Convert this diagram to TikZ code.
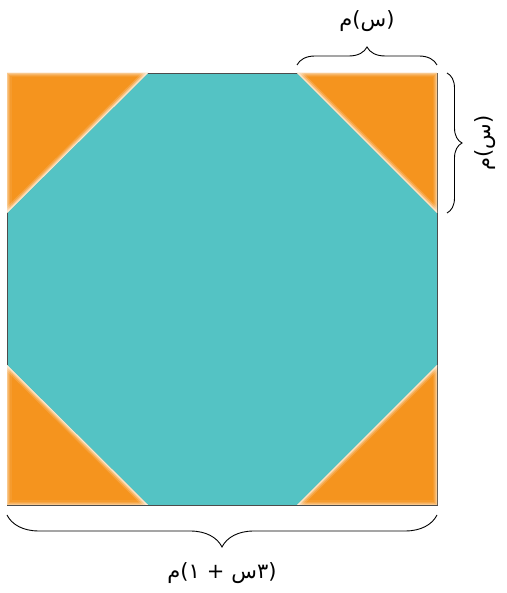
\documentclass[tikz,border=0pt]{standalone}
\usepackage{fontspec}
\usepackage{xcolor}
\usepackage{tikz}
\usetikzlibrary{decorations.pathreplacing}
\TeXXeTstate=1
\newfontfamily\arabicfont[Script=Arabic]{DejaVu Sans}
\definecolor{sqteal}{RGB}{84, 195, 196}
\definecolor{cnrorange}{RGB}{245, 148, 30}

\begin{document}
\begin{tikzpicture}[x=1pt, y=1pt, font=\arabicfont\fontsize{21}{24}\selectfont,
    corner/.style={fill=cnrorange},
    glow/.style={white, line cap=round},
    curly/.style={decorate, decoration={brace, amplitude=#1}, line width=0.9pt}]
    \useasboundingbox (0,0) rectangle (506,593);

    % the square
    \coordinate (sw) at (7,88);
    \coordinate (ne) at (437,520);
    \fill[sqteal] (sw) rectangle (ne);
    \draw[gray!60!black, line width=0.6pt] (sw) rectangle (ne);

    % corner triangles, with a soft edge on the cut
    \fill[corner] (7,520) -- (148,520) -- (7,380) -- cycle;
    \fill[corner] (437,520) -- (297,520) -- (437,380) -- cycle;
    \fill[corner] (7,88) -- (148,88) -- (7,228) -- cycle;
    \fill[corner] (437,88) -- (297,88) -- (437,228) -- cycle;
    \begin{scope}
      \clip (7,520) -- (148,520) -- (7,380) -- cycle
            (437,520) -- (297,520) -- (437,380) -- cycle
            (7,88) -- (148,88) -- (7,228) -- cycle
            (437,88) -- (297,88) -- (437,228) -- cycle;
      \foreach \w/\o in {9/0.15, 6/0.25, 3.5/0.35, 1.5/0.5}{
        \draw[glow, line width=\w pt, opacity=\o]
          (148,520) -- (7,380) (297,520) -- (437,380)
          (148,88) -- (7,228) (297,88) -- (437,228);
        \draw[glow, line width=\w pt, opacity=\o*0.5]
          (7,88) rectangle (437,520);
      }
    \end{scope}

    % braces
    \coordinate (topl) at (297,528);
    \coordinate (topr) at (437,528);
    \draw[curly=18] (topl) -- (topr);
    \node (toplbl) at (367,572) {\beginR(س)م\endR};

    \coordinate (sidet) at (447,520);
    \coordinate (sideb) at (447,380);
    \draw[curly=15] (sidet) -- (sideb);
    \node[rotate=90] (sidelbl) at (485,450) {\beginR(س)م\endR};

    \coordinate (baser) at (437,78);
    \coordinate (basel) at (7,78);
    \draw[curly=32] (baser) -- (basel);
    \node (baselbl) at (222,20) {\beginR(٣س\,\,+\,\,١)م\endR};
\end{tikzpicture}
\end{document}
